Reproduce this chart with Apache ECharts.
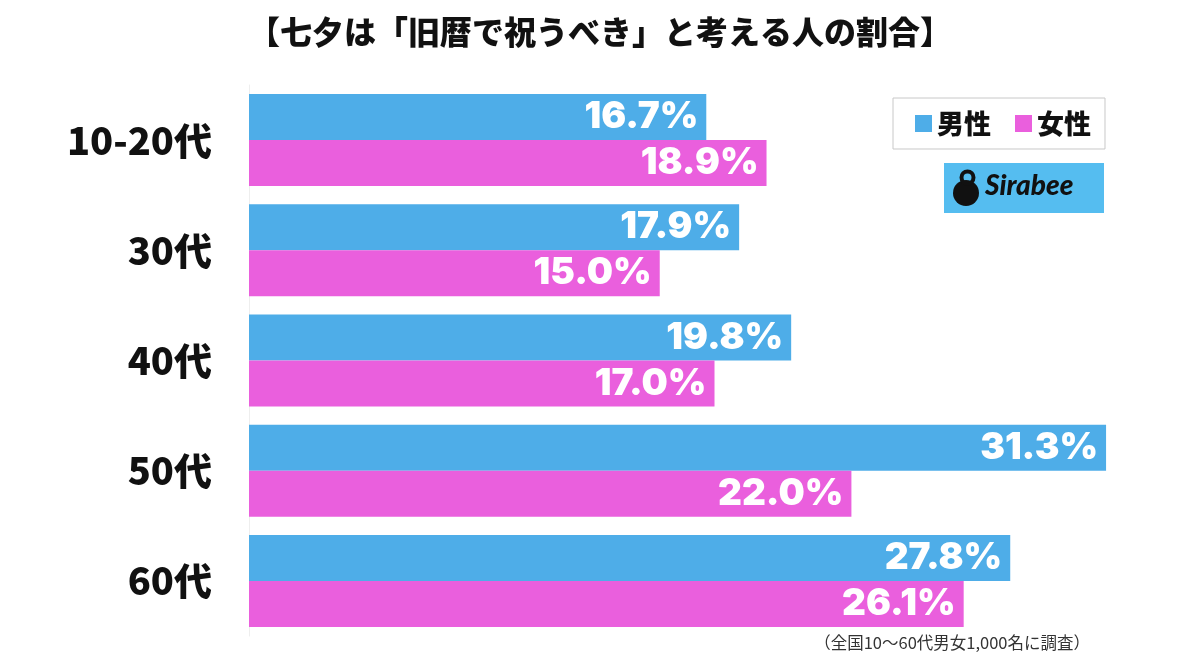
<!DOCTYPE html>
<html><head><meta charset="utf-8">
<script src="https://cdn.jsdelivr.net/npm/echarts@6/dist/echarts.min.js"></script>
<style>html,body{margin:0;padding:0;background:#fff}#c{width:1200px;height:665px}</style>
</head><body><div id="c"></div>
<script>
const categories = ['10-20代', '30代', '40代', '50代', '60代'];
const male = [16.7, 17.9, 19.8, 31.3, 27.8];
const female = [18.9, 15.0, 17.0, 22.0, 26.1];
const seriesNames = ['男性', '女性'];
const titleText = '【七夕は「旧暦で祝うべき」と考える人の割合】';
const noteText = '（全国10〜60代男女1,000名に調査）';

const chart = echarts.init(document.getElementById('c'));
const labelCfg = {
  show: true, position: 'insideRight', distance: 8, color: '#fff',
  fontFamily: 'Inter, Roboto, sans-serif', fontWeight: 900, fontSize: 37,
  formatter: p => p.value.toFixed(1) + '%'
};
chart.setOption({
  backgroundColor: '#fff',
  animation: false,
  title: {
    text: titleText, left: 'center', top: 11,
    textStyle: { fontFamily: '"Noto Sans CJK JP"', fontWeight: 900, fontSize: 32, color: '#111' }
  },
  legend: {
    data: seriesNames, left: 893, top: 98, orient: 'horizontal',
    icon: 'rect', itemWidth: 17, itemHeight: 17, itemGap: 24,
    padding: [12, 14, 12, 22],
    borderColor: '#c8c8c8', borderWidth: 1,
    textStyle: { fontFamily: '"Noto Sans CJK JP"', fontWeight: 900, fontSize: 27, color: '#111' }
  },
  grid: { left: 249, right: 20, top: 85, bottom: 29, containLabel: false },
  xAxis: {
    type: 'value', min: 0, max: 34, show: false
  },
  yAxis: {
    type: 'category', data: categories, inverse: true,
    axisLine: { show: true, lineStyle: { color: '#eeeeee', width: 1 } },
    axisTick: { show: false },
    axisLabel: {
      margin: 37, color: '#111', fontFamily: '"Noto Sans CJK JP"', fontWeight: 900, fontSize: 38
    }
  },
  series: [
    { name: seriesNames[0], type: 'bar', data: male, barWidth: 46, barGap: 0,
      itemStyle: { color: '#4eade8' }, label: labelCfg },
    { name: seriesNames[1], type: 'bar', data: female, barWidth: 46, barGap: 0,
      itemStyle: { color: '#ea5fdd' }, label: labelCfg }
  ],
  graphic: [
    { type: 'rect', left: 944, top: 163, shape: { width: 160, height: 50 }, style: { fill: '#55bdf0' } },
    { type: 'circle', left: 953, top: 180, shape: { r: 13 }, style: { fill: '#111' } },
    { type: 'circle', left: 959, top: 169, shape: { r: 6 }, style: { fill: 'none', stroke: '#111', lineWidth: 4 } },
    { type: 'text', left: 985, top: 172, style: { text: 'Sirabee', fill: '#111',
      font: 'italic 900 28px Lato, "Open Sans", sans-serif' } },
    { type: 'text', right: 110, top: 634, style: { text: noteText, fill: '#333',
      font: '400 16.5px "Noto Sans CJK JP"' } }
  ]
});
</script></body></html>
